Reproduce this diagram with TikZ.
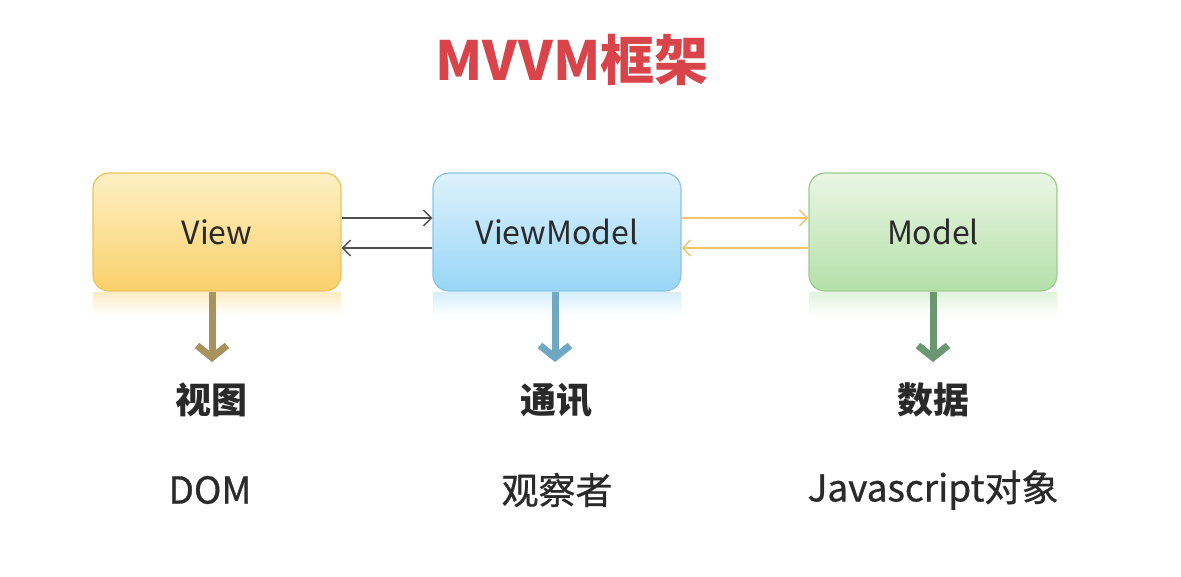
\documentclass[tikz,border=0pt]{standalone}
\usepackage{fontspec}
\setmainfont{Noto Sans CJK SC}
\newfontfamily\medfont{Noto Sans CJK SC}[FakeBold=0.8]
\usetikzlibrary{arrows.meta}

\definecolor{titlered}{HTML}{D9434A}
\definecolor{txtgray}{HTML}{2A2A2A}
\definecolor{viewtop}{HTML}{FEF0C4}
\definecolor{viewbot}{HTML}{F9D06A}
\definecolor{viewline}{HTML}{EEC25A}
\definecolor{vmtop}{HTML}{DDF2FD}
\definecolor{vmbot}{HTML}{98D6F6}
\definecolor{vmline}{HTML}{88C4E6}
\definecolor{mtop}{HTML}{EAF6E4}
\definecolor{mbot}{HTML}{B4E0A8}
\definecolor{mline}{HTML}{9CCB90}
\definecolor{linkgray}{HTML}{505050}
\definecolor{linkorange}{HTML}{F4C46A}
\definecolor{downview}{HTML}{A8925E}
\definecolor{downvm}{HTML}{6EA8C2}
\definecolor{downm}{HTML}{6B9672}

\begin{document}
\begin{tikzpicture}
  [x=0.5pt,y=-0.5pt,every node/.style={font=\fontsize{16pt}{18pt}\selectfont,text=txtgray}]

	\tikzset{
	box/.style = {rounded corners=8pt,minimum width=124pt,minimum height=59pt,draw,line width=0.6pt},
	mirror/.style = {minimum width=124pt,minimum height=12pt,inner sep=0pt},
	link/.style = {line width=0.7pt,-{Straight Barb[length=4pt,width=8pt]}},
	down/.style = {line width=3.5pt,-{Straight Barb[length=6pt,width=15pt]}},
	label/.style = {font=\fontsize{18pt}{20pt}\selectfont\bfseries},
	sub/.style = {font=\fontsize{18.5pt}{20pt}\selectfont\medfont}
	}

  \useasboundingbox[fill=white] (0,0) rectangle (1181,577);

  \node[text=titlered,font=\fontsize{27pt}{30pt}\selectfont\bfseries] (title) at (572,60) {MVVM框架};

  % reflections under the boxes
  \node[mirror,top color=viewbot!40,bottom color=white] (rv) at (217,304) {};
  \node[mirror,top color=vmbot!40,bottom color=white] (rvm) at (557,304) {};
  \node[mirror,top color=mbot!40,bottom color=white] (rm) at (933,304) {};

  \node[box,top color=viewtop,bottom color=viewbot,draw=viewline] (view) at (217,232) {View};
  \node[box,top color=vmtop,bottom color=vmbot,draw=vmline] (vm) at (557,232) {ViewModel};
  \node[box,top color=mtop,bottom color=mbot,draw=mline] (model) at (933,232) {Model};

  \draw[link,linkgray] ([yshift=7pt]view.east) -- ([yshift=7pt]vm.west);
  \draw[link,linkgray] ([yshift=-8pt]vm.west) -- ([yshift=-8pt]view.east);
  \draw[link,linkorange] ([yshift=7pt]vm.east) -- ([yshift=7pt]model.west);
  \draw[link,linkorange] ([yshift=-8pt]model.west) -- ([yshift=-8pt]vm.east);

  \coordinate (tv) at (212,362);
  \coordinate (tvm) at (555,362);
  \coordinate (tm) at (933,362);

  \draw[down,downview] (view.south -| tv) -- (tv);
  \draw[down,downvm] (vm.south -| tvm) -- (tvm);
  \draw[down,downm] (model.south -| tm) -- (tm);

  \node[label] (lv) at (211,400) {视图};
  \node[label] (lvm) at (556,400) {通讯};
  \node[label] (lm) at (933,400) {数据};

  \node[sub] (sv) at (210,490) {DOM};
  \node[sub] (svm) at (557,490) {观察者};
  \node[sub] (sm) at (933,490) {Javascript对象};

\end{tikzpicture}
\end{document}
